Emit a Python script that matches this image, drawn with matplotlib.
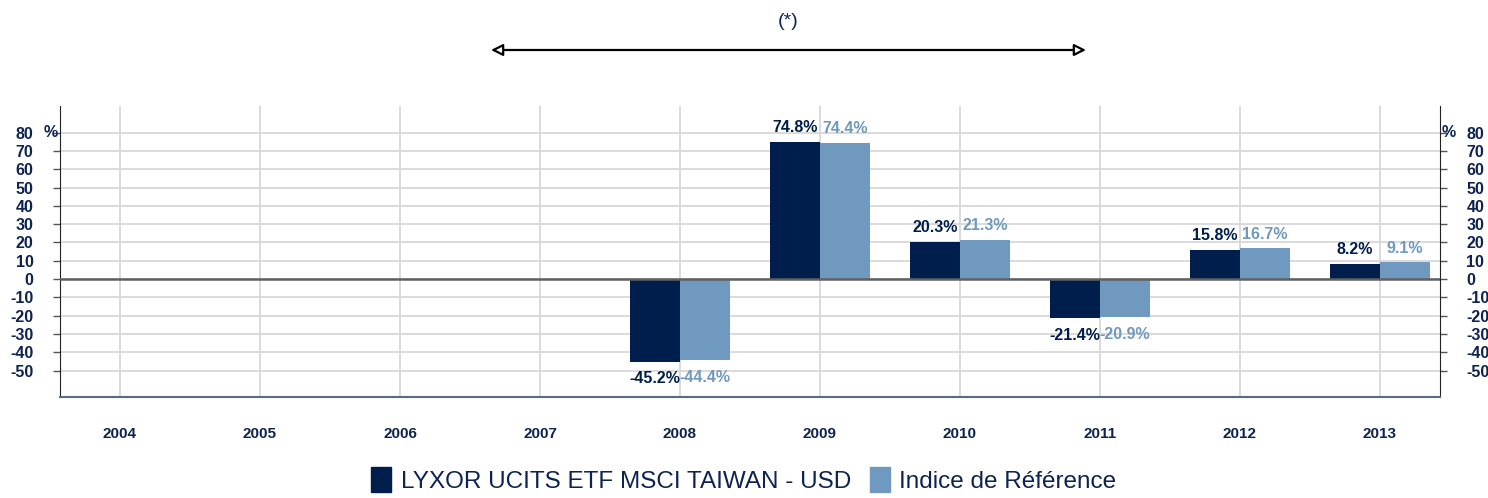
import matplotlib
matplotlib.use('Agg')
import matplotlib.pyplot as plt
import numpy as np

plt.rcParams['font.family'] = ['Liberation Sans', 'DejaVu Sans']
plt.rcParams['axes.unicode_minus'] = False

# data
years = ['2004', '2005', '2006', '2007', '2008', '2009', '2010', '2011', '2012', '2013']
fund = [np.nan, np.nan, np.nan, np.nan, -45.2, 74.8, 20.3, -21.4, 15.8, 8.2]
index = [np.nan, np.nan, np.nan, np.nan, -44.4, 74.4, 21.3, -20.9, 16.7, 9.1]
fund_name = 'LYXOR UCITS ETF MSCI TAIWAN - USD'
index_name = 'Indice de Référence'
yticks = [-50, -40, -30, -20, -10, 0, 10, 20, 30, 40, 50, 60, 70, 80]
arrow_span = (2.63, 6.92)  # period marked by (*)

c_fund = '#001e4b'
c_index = '#7099bf'
c_txt = '#0d2352'

fig = plt.figure(figsize=(14.88, 4.98), dpi=100)
ax = fig.add_axes([60/1488, 1-396.7/498, 1380/1488, (396.7-105.7)/498])

x = np.arange(len(years))
w = 0.355
ax.bar(x - w/2, fund, w, color=c_fund, zorder=3)
ax.bar(x + w/2, index, w, color=c_index, zorder=3)

for i in range(len(years)):
    for val, dx, col in [(fund[i], -w/2, c_fund), (index[i], w/2, c_index)]:
        if np.isnan(val):
            continue
        if val >= 0:
            ax.annotate('%.1f%%' % val, (x[i]+dx, val), xytext=(0, 7), textcoords='offset points',
                        ha='center', va='baseline', fontsize=11.5, fontweight='bold', color=col)
        else:
            ax.annotate('%.1f%%' % val, (x[i]+dx, val), xytext=(0, -7), textcoords='offset points',
                        ha='center', va='top', fontsize=11.5, fontweight='bold', color=col)

ax.axhline(0, color='#606060', lw=1.8, zorder=4)
ax.set_xlim(-60/140, 9+60/140)
ax.set_ylim(-64.3, 94.7)
ax.set_yticks(yticks)
ax.set_xticks(x)
ax.set_xticklabels(years)
ax.grid(True, axis='both', color='#d8d8d8', lw=1.3, zorder=0)
ax.set_axisbelow(True)

ax.tick_params(axis='x', length=0, pad=22, labelsize=11, colors=c_txt)
for lab in ax.get_xticklabels():
    lab.set_fontweight('bold')
ax.tick_params(axis='y', direction='out', length=5, width=1, color='#555555',
               left=True, right=True, labelleft=True, labelright=True,
               pad=14, labelsize=11.5, labelcolor=c_txt)
for lab in ax.get_yticklabels():
    lab.set_fontweight('bold')

ax.spines['top'].set_visible(False)
ax.spines['left'].set_color('#222222')
ax.spines['right'].set_color('#222222')
ax.spines['bottom'].set_color('#5a6a80')
ax.spines['bottom'].set_linewidth(1.5)

# % signs next to the 80 tick
ax.text(-0.0065, 80, '%', transform=ax.get_yaxis_transform(), ha='center', va='center',
        fontsize=11.5, fontweight='bold', color=c_txt)
ax.text(1.006, 80, '%', transform=ax.get_yaxis_transform(), ha='center', va='center',
        fontsize=11.5, fontweight='bold', color=c_txt)

# arrow on top
ax.annotate('', xy=(arrow_span[0], 1-50/498), xytext=(arrow_span[1], 1-50/498),
            xycoords=('data', 'figure fraction'), textcoords=('data', 'figure fraction'),
            arrowprops=dict(arrowstyle='<|-|>,head_length=0.7,head_width=0.35', fc='white', ec='black', lw=1.6),
            annotation_clip=False)
ax.text(np.mean(arrow_span), 1-22/498, '(*)', transform=matplotlib.transforms.blended_transform_factory(ax.transData, fig.transFigure),
        ha='center', va='center', fontsize=14, color=c_txt)

h1 = plt.Rectangle((0, 0), 1, 1, color=c_fund)
h2 = plt.Rectangle((0, 0), 1, 1, color=c_index)
leg = fig.legend([h1, h2], [fund_name, index_name], loc='center', bbox_to_anchor=(0.5, 1-480/498),
                 ncol=2, frameon=False, fontsize=17.5, handlelength=0.8, handleheight=1.2,
                 handletextpad=0.4, columnspacing=0.8)
for t in leg.get_texts():
    t.set_color(c_txt)

fig.savefig('out.png', dpi=100)
